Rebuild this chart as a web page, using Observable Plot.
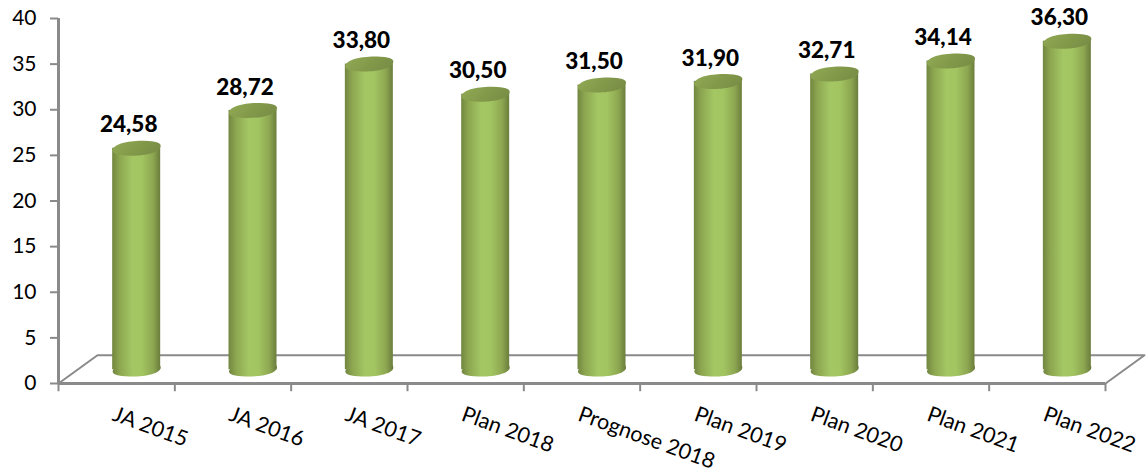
<!DOCTYPE html>
<html><head><meta charset="utf-8">
<script src="https://cdn.jsdelivr.net/npm/d3@7"></script>
<script src="https://cdn.jsdelivr.net/npm/@observablehq/plot@0.6"></script>
<style>html,body{margin:0;padding:0;background:#fff}svg{display:block}</style>
</head><body><div id="chart"></div>
<script>
const categories = ["JA 2015","JA 2016","JA 2017","Plan 2018","Prognose 2018","Plan 2019","Plan 2020","Plan 2021","Plan 2022"];
const values = [24.58,28.72,33.80,30.50,31.50,31.90,32.71,34.14,36.30];
const yTicks = [0,5,10,15,20,25,30,35,40];
const floorX = [0,0.335,9.335,9];
const floorY = [0,3.1,3.1,0];

const rows = categories.map((c,i)=>({c,v:values[i],i,xc:i+0.5+0.172,label:values[i].toFixed(2).replace(".",",")}));
const floor = floorX.map((x,i)=>({x,y:floorY[i]}));
const halfW = 0.2063; // half a cylinder in x units
const tilted = ry => ({draw(ctx,size){
  const rx = Math.sqrt(size/Math.PI);
  ctx.moveTo(-rx,ry*0.3);
  ctx.bezierCurveTo(-rx,-ry*0.55,-rx*0.35,-ry*1.05,rx*0.3,-ry);
  ctx.bezierCurveTo(rx*0.8,-ry*0.95,rx,-ry*0.75,rx,-ry*0.3);
  ctx.bezierCurveTo(rx,ry*0.55,rx*0.35,ry*1.05,-rx*0.3,ry);
  ctx.bezierCurveTo(-rx*0.8,ry*0.95,-rx,ry*0.75,-rx,ry*0.3);
  ctx.closePath();
}});
const axisGrey = "#8a8a8a";
const plot = Plot.plot({
  width:1148,height:474,
  marginTop:18,marginBottom:91,marginLeft:58,marginRight:43,
  style:{background:"#fff",fontFamily:"Lato, Carlito, sans-serif"},
  x:{type:"linear",domain:[0,9],axis:null},
  y:{type:"linear",domain:[0,40]},
  marks:[
    Plot.line(floor,{x:"x",y:"y",stroke:axisGrey,strokeWidth:2}),
    Plot.axisY({ticks:yTicks,tickSize:8,tickPadding:14,label:null,fontSize:21,stroke:axisGrey,strokeWidth:2,color:"#000",fill:"#000"}),
    Plot.ruleX([0],{y1:0,y2:40,stroke:axisGrey,strokeWidth:3}),
    Plot.ruleY([0],{x1:0,x2:9,stroke:axisGrey,strokeWidth:3}),
    Plot.ruleX(d3.range(0,10),{y1:0,y2:-0.9,stroke:axisGrey,strokeWidth:2}),
    Plot.dot(rows,{x:"xc",y:()=>0,dy:-14,r:24,symbol:tilted(7),fill:"url(#cyl)",stroke:null}),
    Plot.rect(rows,{x1:d=>d.xc-halfW,x2:d=>d.xc+halfW,y1:()=>0.3,y2:"v",dy:-11,fill:"url(#cyl)"}),
    Plot.dot(rows,{x:"xc",y:"v",dy:-11,r:24,symbol:tilted(7.5),fill:"url(#cap)",stroke:null}),
    Plot.text(rows,{x:"xc",y:"v",text:"label",dx:-8,dy:-34,fontSize:22.5,fontWeight:900,fill:"#000"}),
    Plot.text(rows,{x:d=>d.i+0.5,y:()=>0,text:"c",rotate:20,textAnchor:"start",dy:30,dx:-3,fontSize:21.5,fill:"#000"})
  ]
});
d3.select(plot).insert("defs",":first-child").html(`
<linearGradient id="cyl" x1="0" x2="1" y1="0" y2="0">
<stop offset="0" stop-color="#728640"/><stop offset="0.15" stop-color="#8ca650"/><stop offset="0.42" stop-color="#a4c764"/><stop offset="0.62" stop-color="#a2c461"/><stop offset="0.85" stop-color="#8da751"/><stop offset="1" stop-color="#6b7d3c"/>
</linearGradient>
<linearGradient id="cap" x1="0" x2="1" y1="0" y2="0.3">
<stop offset="0" stop-color="#92ab55"/><stop offset="0.6" stop-color="#82994a"/><stop offset="1" stop-color="#7a8f46"/>
</linearGradient>`);
document.getElementById("chart").append(plot);
</script></body></html>
